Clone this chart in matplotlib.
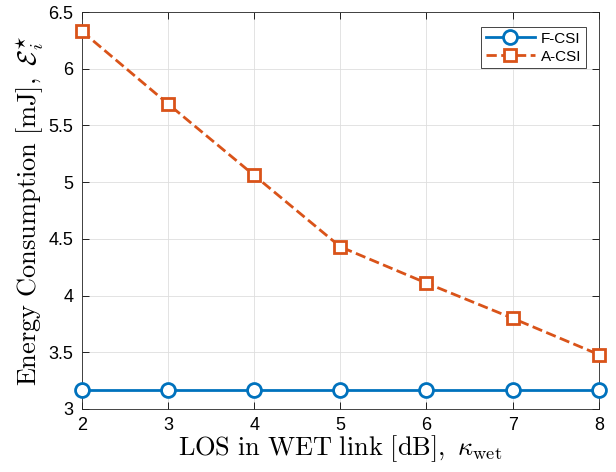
import matplotlib
matplotlib.use("Agg")
import matplotlib.pyplot as plt

kappa = [2, 3, 4, 5, 6, 7, 8]
f_csi = [3.165, 3.165, 3.165, 3.165, 3.165, 3.165, 3.165]
a_csi = [6.33, 5.69, 5.06, 4.43, 4.11, 3.80, 3.48]

plt.rcParams['mathtext.fontset'] = 'cm'
plt.rcParams['font.family'] = ['Liberation Sans', 'DejaVu Sans']

fig = plt.figure(figsize=(6.16, 4.72), dpi=100)
ax = fig.add_axes([0.133, 0.1335, 0.839, 0.841])

blue = (0, 0.447, 0.741)
orange = (0.85, 0.325, 0.098)
ax.plot(kappa, f_csi, '-o', color=blue, lw=2, ms=10, mfc='white', mew=2, label='F-CSI', clip_on=False, zorder=3)
ax.plot(kappa, a_csi, '--s', color=orange, lw=2, ms=8, mfc='white', mew=2, label='A-CSI', clip_on=False, zorder=3)

ax.set_xlim(2, 8)
ax.set_ylim(3, 6.5)
ax.set_xticks(kappa)
ax.set_yticks([3, 3.5, 4, 4.5, 5, 5.5, 6, 6.5])
ax.set_yticklabels(['3', '3.5', '4', '4.5', '5', '5.5', '6', '6.5'])
ax.tick_params(direction='in', top=True, right=True, labelsize=13, length=5, width=0.6, pad=6)
ax.grid(True, color=(0.87, 0.87, 0.87), lw=0.6)
ax.set_axisbelow(True)
for s in ax.spines.values():
    s.set_linewidth(0.6)
    s.set_color((0.15, 0.15, 0.15))

ax.set_xlabel(r'$\mathrm{LOS\ in\ WET\ link\ [dB]},\ \kappa_{\mathrm{wet}}$', fontsize=19, labelpad=-1)
ax.set_ylabel(r'$\mathrm{Energy\ Consumption\ [mJ]},\ \mathcal{E}_i^{\star}$', fontsize=19, labelpad=2)

leg = ax.legend(loc='upper right', fontsize=11, fancybox=False, framealpha=1, edgecolor=(0.15, 0.15, 0.15),
                bbox_to_anchor=(0.975, 0.962), borderaxespad=0, handlelength=3.2, borderpad=0.3,
                labelspacing=0.25, handletextpad=0.4)
leg.get_frame().set_linewidth(0.6)

fig.savefig('out.png', dpi=100)
